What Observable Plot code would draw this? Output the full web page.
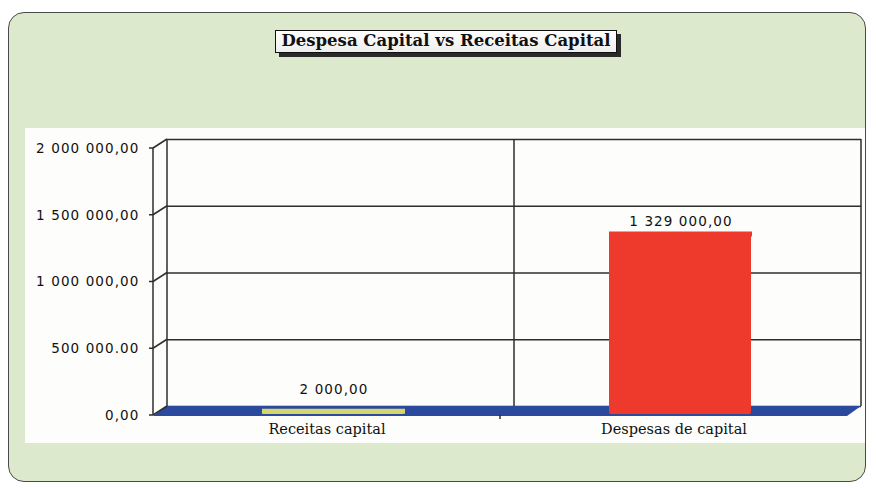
<!DOCTYPE html>
<html>
<head>
<meta charset="utf-8">
<script src="https://cdn.jsdelivr.net/npm/d3@7"></script>
<script src="https://cdn.jsdelivr.net/npm/@observablehq/plot@0.6"></script>
<style>
  html, body { margin: 0; padding: 0; background: #ffffff; }
  #wrap { position: relative; width: 876px; height: 488px; overflow: hidden; }
  #panel { position: absolute; left: 8px; top: 12px; width: 858px; height: 470px;
    border: 1.5px solid #4a4a4a; border-radius: 16px; background: #dce9cd; box-sizing: border-box; }
  #white { position: absolute; left: 25px; top: 128px; width: 840px; height: 315px; background: #fdfdfb; }
  #title { position: absolute; left: 275px; top: 30px; width: 342px; height: 23px; box-sizing: border-box;
    border: 1.5px solid #111; background: linear-gradient(#ffffff, #eeeeee); box-shadow: 4px 4px 0 #2a2a2a;
    font-family: "DejaVu Serif", serif; font-size: 16.5px; font-weight: bold; color: #111;
    text-align: center; line-height: 20px; white-space: nowrap; }
  #chart { position: absolute; left: 0; top: 0; }
  #chart g[font-family^="DejaVu Sans"] text { letter-spacing: 1.1px; }
</style>
</head>
<body>
<div id="wrap">
  <div id="panel"></div>
  <div id="white"></div>
  <div id="chart"></div>
  <div id="title"></div>
</div>
<script>
const title = "Despesa Capital vs Receitas Capital";
const categories = ["Receitas capital", "Despesas de capital"];
const values = [2000, 1329000];
const barColors = ["#d5d66c", "#ee3a2c"];
const yTicks = [0, 500000, 1000000, 1500000, 2000000];
const yTickLabels = ["0,00", "500 000.00", "1 000 000,00", "1 500 000,00", "2 000 000,00"];

document.getElementById("title").textContent = title;

const data = categories.map((c, i) => ({category: c, value: values[i], color: barColors[i]}));
const tickLabelMap = new Map(yTicks.map((t, i) => [t, yTickLabels[i]]));
const ptFormat = d3.formatLocale({decimal: ",", thousands: " ", grouping: [3], currency: ["", ""]}).format(",.2f");

const DX = 14, DY = 9; // depth offset front -> back
const sansFont = "DejaVu Sans, sans-serif";
const serifFont = "DejaVu Serif, serif";

// 3D frame decoration drawn from the scales
function frame3d(index, scales, values, dims) {
  const g = d3.create("svg:g");
  const x0 = dims.marginLeft, x1 = dims.width - dims.marginRight;
  const y0 = scales.y(0);
  const yTop = scales.y(yTicks[yTicks.length - 1]);
  const xMid = scales.x(categories[1]);
  // floor
  g.append("path")
    .attr("d", `M${x0},${y0}L${x1},${y0}L${x1 - DX},${y0 + DY + 1}L${x0 - DX},${y0 + DY + 1}Z`)
    .attr("fill", "#2b4a9e");
  const lines = [];
  lines.push([x0, yTop, x0, y0]);
  lines.push([x1, yTop, x1, y0]);
  lines.push([xMid, yTop, xMid, y0]);
  lines.push([x0 - DX, yTop + DY, x0 - DX, y0 + DY]);
  for (const t of yTicks) {
    const y = scales.y(t);
    lines.push([x0 - DX, y + DY, x0, y]);
    lines.push([x0 - DX - 4, y + DY, x0 - DX, y + DY]);
  }
  lines.push([xMid - DX, y0 + DY, xMid - DX, y0 + DY + 4]);
  for (const [a, b, c, d] of lines) {
    g.append("line").attr("x1", a).attr("y1", b).attr("x2", c).attr("y2", d)
      .attr("stroke", "#2e2e2e").attr("stroke-width", 1.5);
  }
  return g.node();
}

const chart = Plot.plot({
  width: 876,
  height: 488,
  marginLeft: 167,
  marginRight: 15,
  marginTop: 139,
  marginBottom: 82,
  style: {background: "transparent", overflow: "visible"},
  x: {type: "band", domain: categories, padding: 0, axis: null},
  y: {domain: [0, 2000000], axis: null},
  color: {type: "identity"},
  marks: [
    Plot.ruleY(yTicks, {stroke: "#2e2e2e", strokeWidth: 1.5}),
    frame3d,
    Plot.axisY(yTicks, {
      tickSize: 0, tickPadding: 0, dx: -DX - 14, dy: DY,
      tickFormat: d => tickLabelMap.get(d),
      fontFamily: sansFont, fontSize: 13.5, fill: "#111", label: null
    }),
    Plot.axisX(categories, {
      tickSize: 0, tickPadding: 17, dx: -DX,
      fontFamily: serifFont, fontSize: 14.5, fill: "#111", label: null
    }),
    Plot.barY(data, {
      x: "category", y: "value", fill: "color",
      insetLeft: 102, insetRight: 103, insetBottom: -3, dx: -7, dy: 5, rx: 2
    }),
    Plot.tickY(data, {
      x: "category", y: "value", stroke: "color", strokeWidth: 5,
      inset: 102, dx: -7, dy: 5
    }),
    Plot.text(data, {
      filter: (d, i) => i === 0,
      x: "category", y: "value", text: d => ptFormat(d.value),
      lineAnchor: "bottom", dx: -7, dy: -12,
      fontFamily: sansFont, fontSize: 13.5, fill: "#111"
    }),
    Plot.text(data, {
      filter: (d, i) => i === 1,
      x: "category", y: "value", text: d => ptFormat(d.value),
      lineAnchor: "bottom", dx: -7, dy: -3,
      fontFamily: sansFont, fontSize: 13.5, fill: "#111"
    })
  ]
});
document.getElementById("chart").appendChild(chart);
</script>
</body>
</html>
